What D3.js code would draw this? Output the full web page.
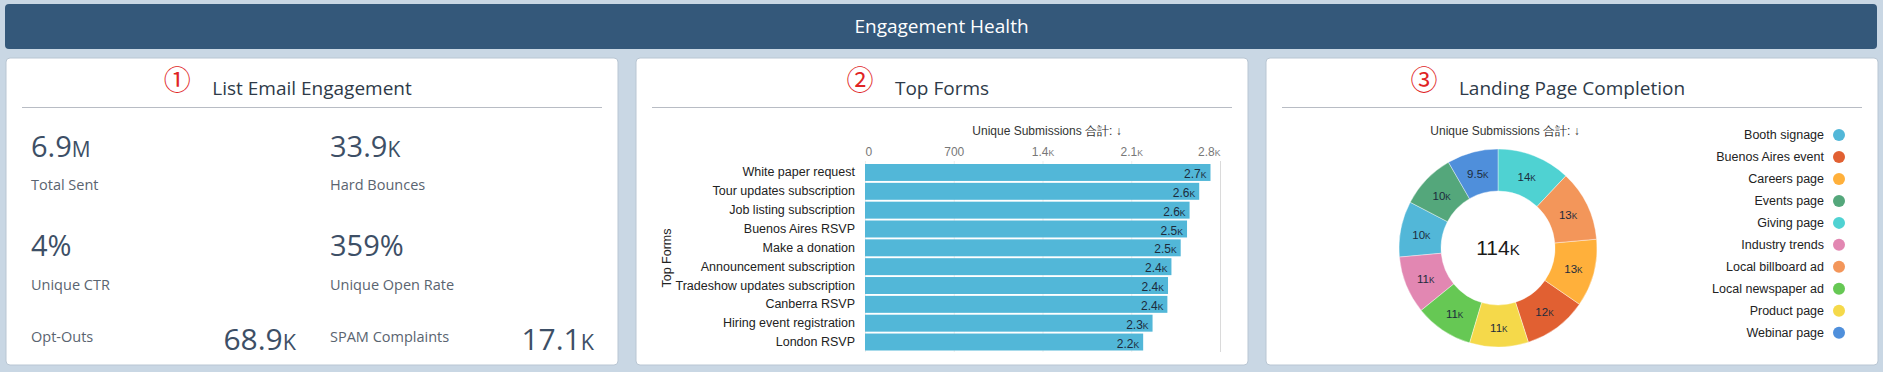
<!DOCTYPE html>
<html>
<head>
<meta charset="utf-8">
<script src="https://cdn.jsdelivr.net/npm/d3@7"></script>
<style>
  body { margin: 0; background: #c9d7e4; }
  svg { display: block; }
  .panel-title { font-family: 'Open Sans', sans-serif; font-size: 19px; fill: #2e3a48; }
  .kpi-num { font-family: 'Open Sans', sans-serif; fill: #3d4f66; }
  .kpi-label { font-family: 'Open Sans', sans-serif; font-size: 14.5px; fill: #5a6470; }
  .chart-text { font-family: 'Liberation Sans', Arial, sans-serif; }
</style>
</head>
<body>
<svg id="dash" width="1883" height="372"></svg>
<script>
// list email engagement
const kpiLabels = ['Total Sent', 'Hard Bounces', 'Unique CTR', 'Unique Open Rate', 'Opt-Outs', 'SPAM Complaints'];
const kpiValues = [6900000, 33900, 0.04, 3.59, 68900, 17100];
const kpiKinds = ['count', 'count', 'pct', 'pct', 'count', 'count'];

// top forms
const formNames = ['White paper request', 'Tour updates subscription', 'Job listing subscription', 'Buenos Aires RSVP',
  'Make a donation', 'Announcement subscription', 'Tradeshow updates subscription', 'Canberra RSVP',
  'Hiring event registration', 'London RSVP'];
const formValues = [2725, 2636, 2560, 2540, 2490, 2417, 2390, 2385, 2268, 2194];
const formTicks = [0, 700, 1400, 2100, 2800];

// landing page completion
const landingPages = ['Booth signage', 'Buenos Aires event', 'Careers page', 'Events page', 'Giving page',
  'Industry trends', 'Local billboard ad', 'Local newspaper ad', 'Product page', 'Webinar page'];
const landingValues = [10398, 11887, 12604, 10296, 13712, 10712, 13198, 10876, 10934, 9512];
const landingColors = ['#52b7d8', '#e16032', '#ffb03b', '#54a77b', '#4fd2d2', '#e287b2', '#f3965a', '#66c854', '#f5d94a', '#4f8fdb'];

const svg = d3.select('#dash');

const fmtCount = d3.format('.3~s');
const fmtShort = d3.format('.2~s');
const fmtPct = d3.format('.0%');

// writes "2.7k" as 2.7 + small caps K
function writeNumber(sel, str, size) {
  let m = str.match(/^([\d.]+)([kMG]?)$/);
  if (!m) {
    sel.append('tspan').style('font-size', size + 'px').text(str);
    return;
  }
  sel.append('tspan').style('font-size', size + 'px').text(m[1]);
  if (m[2]) {
    sel.append('tspan').style('font-size', (size * 0.72).toFixed(1) + 'px').text(m[2].toUpperCase());
  }
}

// header
svg.append('rect')
  .attr('x', 5).attr('y', 4).attr('width', 1872).attr('height', 45)
  .attr('rx', 4).attr('fill', '#34587a');
svg.append('text')
  .attr('x', 941.5).attr('y', 32.5)
  .attr('text-anchor', 'middle')
  .style('font-family', "'Open Sans', sans-serif")
  .style('font-size', '19px')
  .attr('fill', '#ffffff')
  .text('Engagement Health');

// panels
const panelX = [6, 636, 1266];
const panelW = 612;
const panelTitles = ['List Email Engagement', 'Top Forms', 'Landing Page Completion'];
const circled = ['①', '②', '③'];

panelX.forEach(function(px, i) {
  svg.append('rect')
    .attr('x', px).attr('y', 58).attr('width', panelW).attr('height', 307)
    .attr('rx', 4).attr('fill', '#ffffff').attr('stroke', '#b9c6d3');
  let t = svg.append('text')
    .attr('class', 'panel-title')
    .attr('x', px + panelW / 2).attr('y', 95)
    .attr('text-anchor', 'middle')
    .text(panelTitles[i]);
  let tw = t.node().getComputedTextLength();
  svg.append('text')
    .attr('x', px + panelW / 2 - tw / 2 - 35).attr('y', 90)
    .attr('text-anchor', 'middle')
    .style('font-family', "'Noto Sans CJK JP', sans-serif")
    .style('font-size', '27px')
    .attr('fill', '#e02424')
    .text(circled[i]);
  svg.append('line')
    .attr('x1', px + 16).attr('x2', px + panelW - 16)
    .attr('y1', 107.5).attr('y2', 107.5)
    .attr('stroke', '#b8bcc4');
});

// panel 1: KPIs
const kpiCol = [31, 330];
const kpiNumY = [157, 256];
const kpiLabY = [190, 290];
kpiLabels.forEach(function(label, i) {
  let str = kpiKinds[i] == 'pct' ? fmtPct(kpiValues[i]) : fmtCount(kpiValues[i]);
  let col = i % 2;
  let row = Math.floor(i / 2);
  if (row < 2) {
    let n = svg.append('text').attr('class', 'kpi-num')
      .attr('x', kpiCol[col]).attr('y', kpiNumY[row]);
    writeNumber(n, str, 29);
    svg.append('text').attr('class', 'kpi-label')
      .attr('x', kpiCol[col]).attr('y', kpiLabY[row]).text(label);
  } else {
    svg.append('text').attr('class', 'kpi-label')
      .attr('x', kpiCol[col]).attr('y', 342).text(label);
    let n = svg.append('text').attr('class', 'kpi-num')
      .attr('x', col == 0 ? 296 : 594).attr('y', 350)
      .attr('text-anchor', 'end');
    writeNumber(n, str, 30);
  }
});

// panel 2: bar chart
const barTop = 164, barBottom = 350.5;
const xBar = d3.scaleLinear().domain([0, 2800]).range([865, 1220]);
const yBar = d3.scaleBand().domain(formNames).range([barTop, barBottom]).paddingInner(0.1);

const grid = svg.append('g')
  .attr('transform', 'translate(0,' + 161 + ')')
  .call(d3.axisBottom(xBar).tickValues(formTicks).tickSize(352 - 161).tickFormat(''));
grid.select('.domain').remove();
grid.selectAll('line').attr('stroke', (d, i) => i == formTicks.length - 1 ? '#dadada' : '#ededed');

svg.append('text')
  .attr('class', 'chart-text')
  .attr('x', 1047).attr('y', 135)
  .attr('text-anchor', 'middle')
  .style('font-size', '12px')
  .attr('fill', '#333')
  .text('Unique Submissions 合計: ↓');

const xAxis = svg.append('g')
  .attr('class', 'chart-text')
  .attr('transform', 'translate(0,' + 159 + ')')
  .call(d3.axisTop(xBar).tickValues(formTicks).tickSize(0).tickPadding(3).tickFormat(d => ''));
xAxis.select('.domain').remove();
xAxis.selectAll('.tick text').each(function(d, i) {
  let t = d3.select(this)
    .style('font-size', '12px')
    .style('font-family', "'Liberation Sans', Arial, sans-serif")
    .attr('fill', '#777')
    .attr('text-anchor', i == 0 ? 'start' : (i == formTicks.length - 1 ? 'end' : 'middle'));
  writeNumber(t, fmtShort(d), 12);
});

svg.selectAll('.form-bar')
  .data(formValues)
  .enter()
  .append('rect')
  .attr('class', 'form-bar')
  .attr('x', xBar(0))
  .attr('y', (d, i) => yBar(formNames[i]))
  .attr('width', d => xBar(d) - xBar(0))
  .attr('height', yBar.bandwidth())
  .attr('fill', '#52b7d8');

svg.selectAll('.form-val')
  .data(formValues)
  .enter()
  .append('text')
  .attr('class', 'form-val chart-text')
  .attr('x', d => xBar(d) - 4)
  .attr('y', (d, i) => yBar(formNames[i]) + yBar.bandwidth() / 2)
  .attr('dy', '0.35em')
  .attr('text-anchor', 'end')
  .attr('fill', '#1c2b3c')
  .each(function(d) { writeNumber(d3.select(this), fmtShort(d), 12); });

const yAxis = svg.append('g')
  .attr('transform', 'translate(' + xBar(0) + ',0)')
  .call(d3.axisLeft(yBar).tickSize(0).tickPadding(10));
yAxis.select('.domain').remove();
yAxis.selectAll('text')
  .style('font-family', "'Liberation Sans', Arial, sans-serif")
  .style('font-size', '12.5px')
  .attr('fill', '#222');

svg.append('text')
  .attr('class', 'chart-text')
  .attr('transform', 'translate(671,258) rotate(-90)')
  .attr('text-anchor', 'middle')
  .style('font-size', '12.5px')
  .attr('fill', '#222')
  .text('Top Forms');

// panel 3: donut
const cx = 1498, cy = 248;
svg.append('text')
  .attr('class', 'chart-text')
  .attr('x', 1505).attr('y', 135)
  .attr('text-anchor', 'middle')
  .style('font-size', '12px')
  .attr('fill', '#333')
  .text('Unique Submissions 合計: ↓');

const pie = d3.pie().value(d => d.v);
const arc = d3.arc().innerRadius(57).outerRadius(99);
const labelArc = d3.arc().innerRadius(78).outerRadius(78);
const slices = pie(landingPages.map((p, i) => ({ name: p, v: landingValues[i], c: landingColors[i] })));

const donut = svg.append('g').attr('transform', 'translate(' + cx + ',' + cy + ')');
donut.selectAll('path')
  .data(slices)
  .enter()
  .append('path')
  .attr('d', arc)
  .attr('fill', d => d.data.c)
  .attr('stroke', '#ffffff')
  .attr('stroke-width', 0.4);

donut.selectAll('.slice-label')
  .data(slices)
  .enter()
  .append('text')
  .attr('class', 'slice-label chart-text')
  .attr('transform', d => 'translate(' + labelArc.centroid(d) + ')')
  .attr('dy', '0.35em')
  .attr('text-anchor', 'middle')
  .attr('fill', '#1c2b3c')
  .each(function(d) { writeNumber(d3.select(this), fmtShort(d.data.v), 11.5); });

const total = donut.append('text')
  .attr('class', 'chart-text')
  .attr('y', 7)
  .attr('text-anchor', 'middle')
  .attr('fill', '#1a1a1a');
writeNumber(total, fmtCount(d3.sum(landingValues)), 21);

// legend
const legend = svg.append('g');
landingPages.forEach(function(p, i) {
  let ly = 135 + i * 21.97;
  legend.append('text')
    .attr('class', 'chart-text')
    .attr('x', 1824).attr('y', ly)
    .attr('dy', '0.35em')
    .attr('text-anchor', 'end')
    .style('font-size', '12.5px')
    .attr('fill', '#222')
    .text(p);
  legend.append('circle')
    .attr('cx', 1839).attr('cy', ly)
    .attr('r', 6)
    .attr('fill', landingColors[i]);
});
</script>
</body>
</html>
